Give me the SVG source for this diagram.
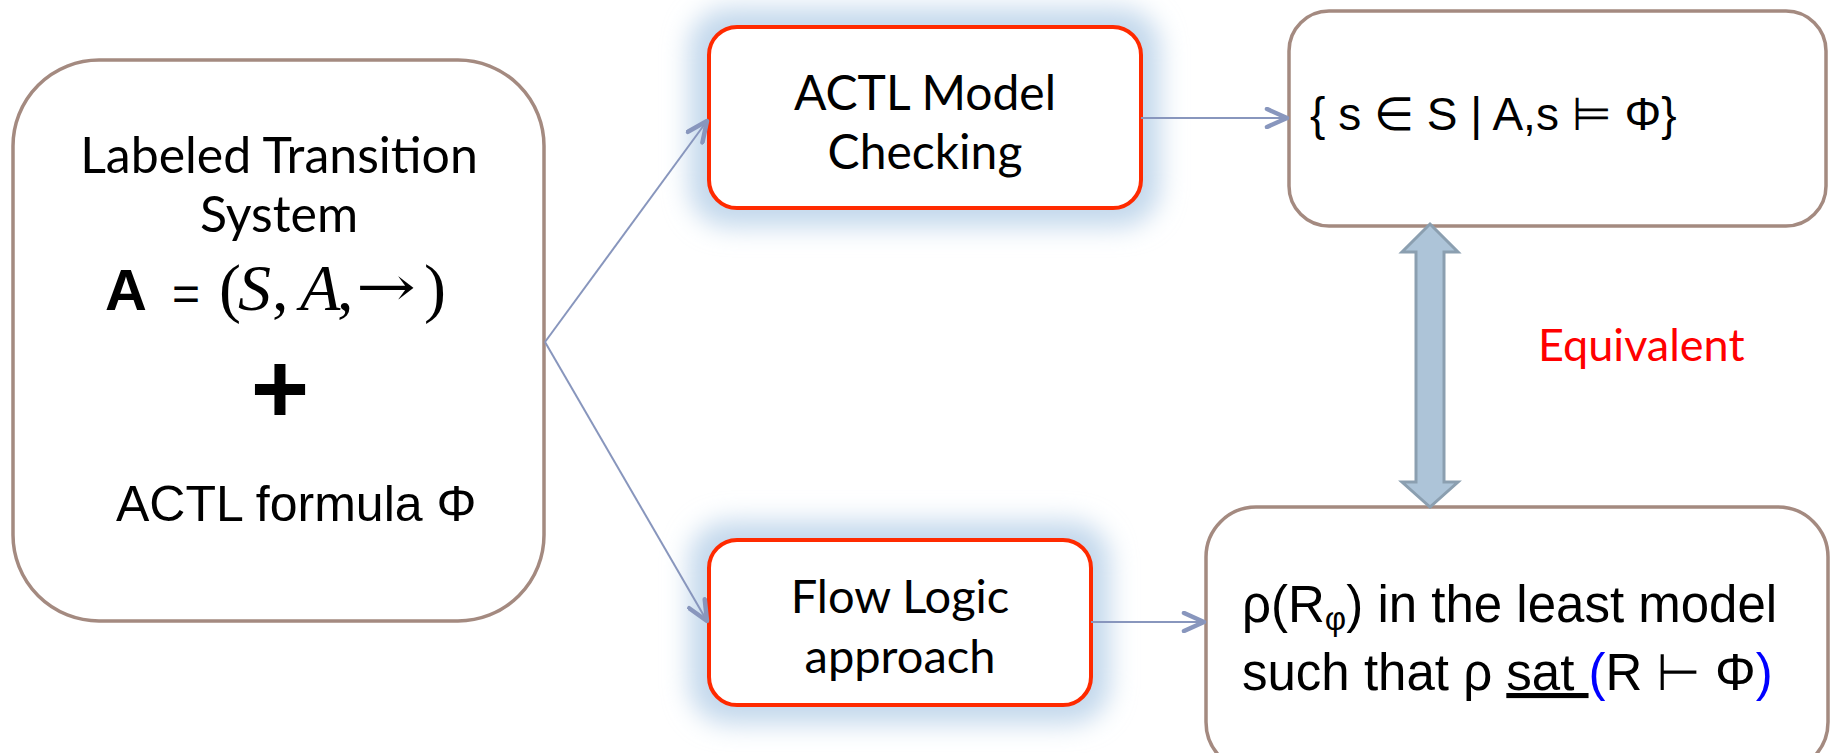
<svg xmlns="http://www.w3.org/2000/svg" width="1831" height="753" viewBox="0 0 1831 753">
<style>
.box{fill:#fff;stroke:#a48a80;stroke-width:3.5}
.rbox{fill:#fff;stroke:#ff2a00;stroke-width:4}
.glow{fill:#c3d8ec}
.gill{font-family:Lato,"Open Sans",sans-serif;fill:#000}
.ar{font-family:"Liberation Sans",Arial,"DejaVu Sans",sans-serif;fill:#000}
.tm{font-family:"Liberation Serif","Times New Roman","DejaVu Serif",serif;font-size:66px;fill:#000}
.conn{stroke:#8896bd;stroke-width:2;fill:none}
</style>
<defs>
<filter id="blur" x="-30%" y="-40%" width="160%" height="180%"><feGaussianBlur stdDeviation="13"/></filter>
<marker id="chev" viewBox="0 0 26 22" refX="23" refY="11" markerWidth="26" markerHeight="22" markerUnits="userSpaceOnUse" orient="auto">
<path d="M3,2 L23,11 L3,20" fill="none" stroke="#8896bd" stroke-width="4.5" stroke-linecap="round" stroke-linejoin="round"/>
</marker>
</defs>

<g id="node-lts">
<rect class="box" x="13" y="60" width="531" height="561" rx="86"/>
<text class="gill" x="279" y="173" font-size="50" text-anchor="middle">Labeled Transition</text>
<text class="gill" x="279" y="232" font-size="50" text-anchor="middle">System</text>
<text class="ar" x="105" y="310" font-size="58" font-weight="bold">A</text>
<text class="ar" x="172" y="310" font-size="48">=</text>
<text class="tm" x="219" y="310">(</text>
<text class="tm" x="238" y="310" font-style="italic">S</text>
<text class="tm" x="272" y="310">,</text>
<text class="tm" x="300" y="310" font-style="italic">A</text>
<text class="tm" x="337" y="310">,</text>
<text x="356" y="306" font-family="'DejaVu Serif',serif" font-size="56" textLength="60" lengthAdjust="spacingAndGlyphs">→</text>
<text class="tm" x="424" y="310">)</text>
<text class="ar" x="280" y="423" font-size="100" font-weight="bold" text-anchor="middle">+</text>
<text class="ar" x="116" y="521" font-size="50">ACTL formula Φ</text>
</g>

<g id="node-mc">
<rect class="glow" x="689" y="8" width="471" height="219" rx="40" filter="url(#blur)"/>
<rect class="rbox" x="709" y="27" width="432" height="181" rx="28"/>
<text class="gill" x="925" y="110" font-size="48" text-anchor="middle">ACTL Model</text>
<text class="gill" x="925" y="169" font-size="48" text-anchor="middle">Checking</text>
</g>

<g id="node-fl">
<rect class="glow" x="689" y="521" width="421" height="203" rx="40" filter="url(#blur)"/>
<rect class="rbox" x="709" y="540" width="382" height="165" rx="28"/>
<text class="gill" x="900" y="613" font-size="47" text-anchor="middle">Flow Logic</text>
<text class="gill" x="900" y="673" font-size="47" text-anchor="middle">approach</text>
</g>

<g id="node-set">
<rect class="box" x="1289" y="11" width="537" height="215" rx="40"/>
<text class="ar" x="1310" y="130" font-size="46">{ s ∈ S | A,s ⊨ Φ}</text>
</g>

<g id="node-rho">
<rect class="box" x="1206" y="507" width="622" height="265" rx="50"/>
<text class="ar" x="1242" y="622" font-size="51">ρ(R<tspan font-size="33" dy="8">φ</tspan><tspan dy="-8">) in the least model</tspan></text>
<text class="ar" x="1242" y="690" font-size="51">such that ρ <tspan text-decoration="underline">sat </tspan><tspan fill="#0000ff">(</tspan>R ⊢ Φ<tspan fill="#0000ff">)</tspan></text>
</g>

<g id="connectors">
<path class="conn" d="M545,342 L707,121" marker-end="url(#chev)"/>
<path class="conn" d="M545,342 L707,621" marker-end="url(#chev)"/>
<path class="conn" d="M1141,118 L1287,118" marker-end="url(#chev)"/>
<path class="conn" d="M1091,622 L1204,622" marker-end="url(#chev)"/>
</g>

<g id="equivalent">
<polygon points="1430,224 1458,252 1444,252 1444,482 1458,482 1430,507 1402,482 1416,482 1416,252 1402,252" fill="#adc4d8" stroke="#8b9fb0" stroke-width="3" stroke-linejoin="miter"/>
<text x="1538" y="361" font-family="Lato,'Open Sans',sans-serif" font-size="45" fill="#ff0000">Equivalent</text>
</g>
</svg>
